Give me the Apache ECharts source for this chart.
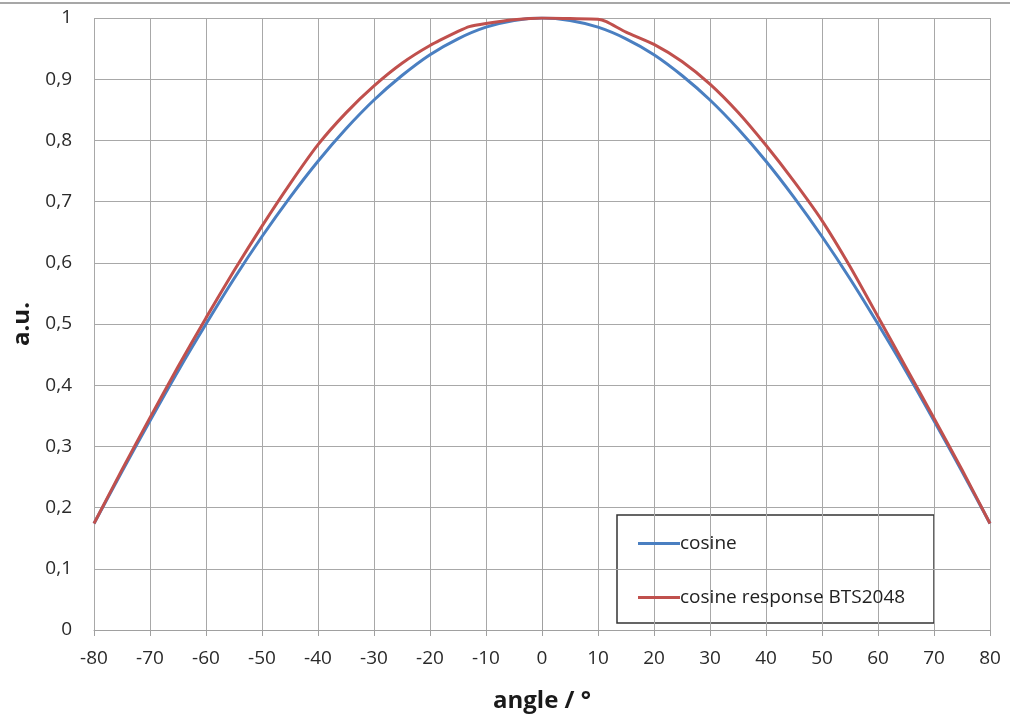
<!DOCTYPE html>
<html>
<head>
<meta charset="utf-8">
<script src="https://cdn.jsdelivr.net/npm/echarts@6/dist/echarts.min.js"></script>
<style>html,body{margin:0;padding:0;background:#fff;}#c{width:1018px;height:718px;}</style>
</head>
<body>
<div id="c"></div>
<script>
var cosineAngles = [-80,-75,-70,-65,-60,-55,-50,-45,-40,-35,-30,-25,-20,-15,-10,-5,0,5,10,15,20,25,30,35,40,45,50,55,60,65,70,75,80];
var cosineValues = [0.174,0.259,0.342,0.423,0.500,0.574,0.643,0.707,0.766,0.819,0.866,0.906,0.940,0.966,0.985,0.996,1.000,0.996,0.985,0.966,0.940,0.906,0.866,0.819,0.766,0.707,0.643,0.574,0.500,0.423,0.342,0.259,0.174];
var responseAngles = [-80,-75,-70,-65,-60,-55,-50,-45,-40,-35,-30,-25,-20,-15,-13,-10,-5,0,5,10,11.5,15,20,25,30,35,40,45,50,55,60,65,70,75,80];
var responseValues = [0.174,0.262,0.347,0.430,0.510,0.587,0.660,0.729,0.793,0.845,0.889,0.926,0.955,0.978,0.986,0.991,0.997,1.000,0.999,0.998,0.994,0.977,0.957,0.929,0.892,0.846,0.792,0.733,0.669,0.594,0.512,0.429,0.346,0.262,0.174];
var xTickStep = 10;
var yTickStep = 0.1;
var seriesNames = ['cosine', 'cosine response BTS2048'];

function pairs(xs, ys) { return xs.map(function (x, i) { return [x, ys[i]]; }); }

var FONT = 'Open Sans';
var chart = echarts.init(document.getElementById('c'), null, {renderer: 'canvas'});
chart.setOption({
  animation: false,
  backgroundColor: '#ffffff',
  grid: {left: 94, right: 28, top: 18, bottom: 86, containLabel: false},
  xAxis: {
    type: 'value', min: -80, max: 80, interval: xTickStep,
    name: 'angle / °', nameLocation: 'middle', nameGap: 59,
    nameTextStyle: {fontFamily: FONT, fontSize: 24, fontWeight: 'bold', color: '#1a1a1a'},
    axisLine: {show: true, lineStyle: {color: '#a0a0a0', width: 1}},
    axisTick: {show: true, length: 6, lineStyle: {color: '#a0a0a0'}},
    splitLine: {show: true, lineStyle: {color: '#a8a8a8', width: 1}},
    axisLabel: {fontFamily: FONT, fontSize: 19, color: '#2a2a2a', margin: 19}
  },
  yAxis: {
    type: 'value', min: 0, max: 1, interval: yTickStep,
    name: 'a.u.', nameLocation: 'middle', nameGap: 60, nameRotate: 90,
    nameTextStyle: {fontFamily: FONT, fontSize: 24, fontWeight: 'bold', color: '#1a1a1a'},
    axisLine: {show: true, lineStyle: {color: '#a0a0a0', width: 1}},
    axisTick: {show: false},
    splitLine: {show: true, lineStyle: {color: '#a8a8a8', width: 1}},
    axisLabel: {fontFamily: FONT, fontSize: 19, color: '#2a2a2a', margin: 22,
      formatter: function (v) {
        var r = Math.round(v * 10) / 10;
        if (r === 0) return '0';
        if (r === 1) return '1';
        return r.toFixed(1).replace('.', ',');
      }}
  },
  legend: {
    orient: 'vertical', left: 633, top: 529, itemGap: 35,
    itemWidth: 42, itemHeight: 3, icon: 'rect',
    textStyle: {fontFamily: FONT, fontSize: 19, color: '#222', padding: [0, 0, 0, -5]},
    data: seriesNames
  },
  graphic: [
    {type: 'line', shape: {x1: 0, y1: 3, x2: 1010, y2: 3}, style: {stroke: '#8a8a8a', lineWidth: 1.5}, z: 100},
    {type: 'rect', shape: {x: 617, y: 515, width: 317, height: 108}, style: {fill: '#ffffff', stroke: '#333333', lineWidth: 1.5}, z: 0, silent: true}
  ],
  series: [
    {name: seriesNames[0], type: 'line', data: pairs(cosineAngles, cosineValues), showSymbol: false, smooth: 0.3,
      lineStyle: {color: '#4a7fc1', width: 3}, itemStyle: {color: '#4a7fc1'}, z: 3},
    {name: seriesNames[1], type: 'line', data: pairs(responseAngles, responseValues), showSymbol: false, smooth: 0.2,
      lineStyle: {color: '#c0504d', width: 3}, itemStyle: {color: '#c0504d'}, z: 4}
  ]
});
</script>
</body>
</html>
